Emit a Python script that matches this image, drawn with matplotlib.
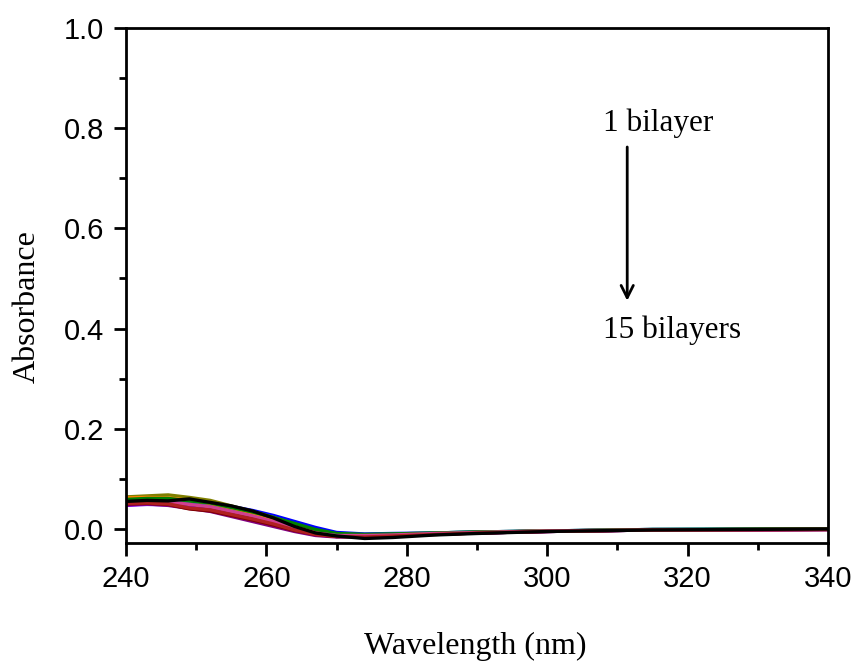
import numpy as np
import matplotlib
matplotlib.use('Agg')
import matplotlib.pyplot as plt
from matplotlib.ticker import MultipleLocator

# wavelength grid (nm) shared by all spectra
wl = [240, 243, 246, 249, 252, 255, 258, 261, 264, 267, 270, 274, 278, 284, 290, 300, 315, 340]

# absorbance spectra, one per bilayer count
spectra = {
    'red':        [0.060, 0.062, 0.060, 0.055, 0.050, 0.040, 0.030, 0.018, 0.004, -0.008, -0.013, -0.014, -0.013, -0.010, -0.008, -0.004, -0.002, -0.001],
    'blue':       [0.058, 0.060, 0.060, 0.057, 0.052, 0.045, 0.037, 0.027, 0.015, 0.003, -0.007, -0.010, -0.009, -0.008, -0.006, -0.004, -0.001, 0.000],
    'magenta':    [0.052, 0.054, 0.053, 0.048, 0.043, 0.034, 0.025, 0.014, 0.002, -0.009, -0.013, -0.013, -0.012, -0.009, -0.007, -0.004, -0.002, 0.000],
    'olive':      [0.064, 0.066, 0.068, 0.063, 0.057, 0.046, 0.035, 0.023, 0.010, -0.003, -0.010, -0.012, -0.011, -0.009, -0.007, -0.004, -0.002, 0.000],
    'navy':       [0.050, 0.052, 0.051, 0.046, 0.040, 0.031, 0.022, 0.011, 0.000, -0.010, -0.014, -0.014, -0.012, -0.010, -0.008, -0.005, -0.002, -0.001],
    'violet':     [0.047, 0.049, 0.048, 0.043, 0.037, 0.028, 0.018, 0.008, -0.003, -0.012, -0.015, -0.015, -0.013, -0.010, -0.008, -0.005, -0.002, -0.001],
    'purple':     [0.048, 0.050, 0.047, 0.041, 0.035, 0.025, 0.015, 0.005, -0.005, -0.013, -0.016, -0.015, -0.013, -0.010, -0.008, -0.005, -0.002, -0.001],
    'wine':       [0.050, 0.051, 0.049, 0.040, 0.036, 0.027, 0.018, 0.008, -0.003, -0.011, -0.015, -0.015, -0.013, -0.011, -0.008, -0.005, -0.002, -0.001],
    'darkcyan':   [0.057, 0.058, 0.057, 0.053, 0.049, 0.041, 0.032, 0.021, 0.009, -0.003, -0.010, -0.011, -0.010, -0.008, -0.006, -0.004, -0.001, 0.000],
    'royal':      [0.055, 0.057, 0.056, 0.051, 0.046, 0.038, 0.029, 0.018, 0.006, -0.006, -0.012, -0.012, -0.011, -0.009, -0.007, -0.004, -0.002, 0.000],
    'orange':     [0.062, 0.063, 0.062, 0.057, 0.051, 0.042, 0.032, 0.020, 0.006, -0.006, -0.012, -0.013, -0.012, -0.009, -0.007, -0.004, -0.002, 0.000],
    'green':      [0.059, 0.061, 0.061, 0.056, 0.052, 0.043, 0.034, 0.023, 0.011, -0.001, -0.009, -0.011, -0.010, -0.008, -0.006, -0.004, -0.001, 0.000],
    'pink':       [0.053, 0.055, 0.054, 0.049, 0.044, 0.035, 0.026, 0.015, 0.003, -0.008, -0.013, -0.013, -0.012, -0.009, -0.007, -0.004, -0.002, -0.001],
    'darkred':    [0.051, 0.052, 0.050, 0.042, 0.038, 0.029, 0.020, 0.010, -0.002, -0.011, -0.015, -0.016, -0.014, -0.011, -0.008, -0.005, -0.002, -0.001],
    'black':      [0.055, 0.057, 0.056, 0.060, 0.053, 0.046, 0.036, 0.022, 0.005, -0.008, -0.014, -0.019, -0.017, -0.012, -0.009, -0.005, -0.002, 0.000],
}

colors = {
    'red': '#FF0000', 'blue': '#0000FF', 'magenta': '#FF00FF', 'olive': '#808000',
    'navy': '#000080', 'violet': '#8000FF', 'purple': '#800080', 'wine': '#800000',
    'darkcyan': '#008080', 'royal': '#3050D0', 'orange': '#FF8000', 'green': '#008000',
    'pink': '#D04090', 'darkred': '#B02020', 'black': '#000000',
}

fig = plt.figure(figsize=(8.58, 6.63), dpi=100)
ax = fig.add_axes([0.1469, 0.181, 0.8181, 0.7768])

for name, vals in spectra.items():
    ax.plot(wl, vals, color=colors[name], lw=2.4)

ax.set_xlim(240, 340)
ax.set_ylim(-0.028, 1.0)
ax.xaxis.set_major_locator(MultipleLocator(20))
ax.xaxis.set_minor_locator(MultipleLocator(10))
ax.yaxis.set_major_locator(MultipleLocator(0.2))
ax.yaxis.set_minor_locator(MultipleLocator(0.1))
ax.yaxis.set_major_formatter(plt.FormatStrFormatter('%.1f'))

ax.tick_params(which='both', direction='out', top=False, right=False, width=2,
               labelsize=21, pad=7)
ax.tick_params(which='major', length=9)
ax.tick_params(which='minor', length=5)
for lab in ax.get_xticklabels() + ax.get_yticklabels():
    lab.set_family('Liberation Sans')
for s in ax.spines.values():
    s.set_linewidth(2)

ax.set_xlabel('Wavelength (nm)', family='Liberation Serif', fontsize=23)
ax.set_ylabel('Absorbance', family='Liberation Serif', fontsize=23)
ax.xaxis.set_label_coords(0.497, -0.172)
ax.yaxis.set_label_coords(-0.120, 0.46)

# bilayer count arrow
ax.text(307.9, 0.81, '1 bilayer', family='Liberation Serif', fontsize=22.5, va='center')
ax.text(307.9, 0.397, '15 bilayers', family='Liberation Serif', fontsize=22.5, va='center')
ax.annotate('', xy=(311.4, 0.45), xytext=(311.4, 0.768),
            arrowprops=dict(arrowstyle='->', color='black', lw=2, mutation_scale=22))

plt.savefig('out.png', dpi=100)
